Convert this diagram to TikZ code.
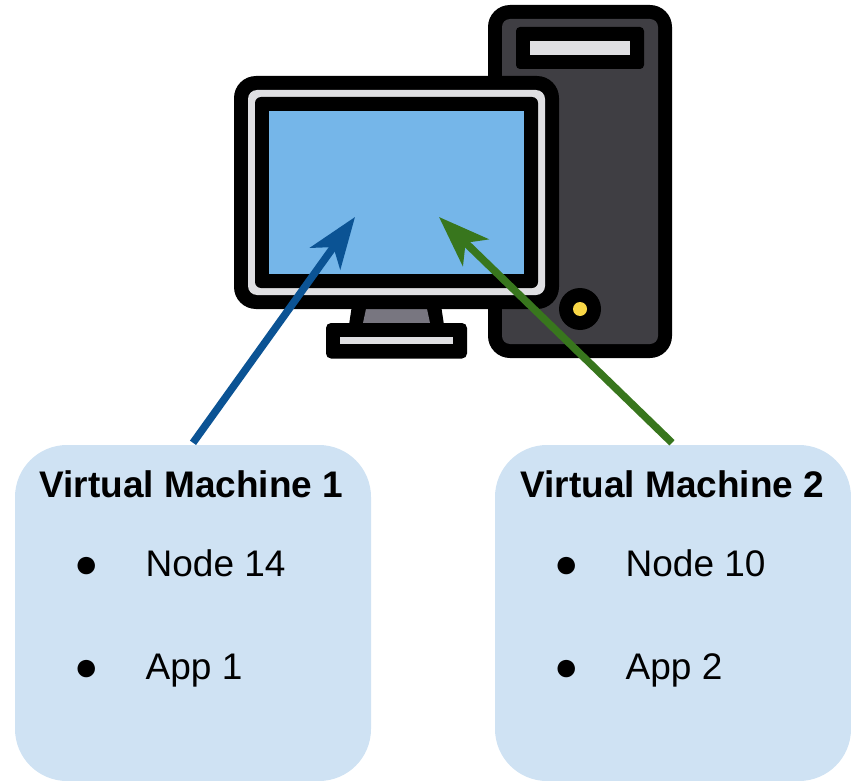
\documentclass[tikz,border=0pt]{standalone}
\usepackage{fontspec}
\setmainfont{Liberation Sans}
\usetikzlibrary{arrows.meta}
\definecolor{boxblue}{HTML}{CFE2F3}
\definecolor{arrowblue}{HTML}{0B5394}
\definecolor{arrowgreen}{HTML}{38761D}
\definecolor{screenblue}{HTML}{75B6E9}
\definecolor{towergrey}{HTML}{3F3E43}
\definecolor{lightgrey}{HTML}{DFDFE2}
\definecolor{standgrey}{HTML}{787680}
\definecolor{knobyellow}{HTML}{F9D746}
\tikzset{
  vmbox/.style={fill=boxblue,rounded corners=52pt,minimum width=356pt,minimum height=336pt,inner sep=0pt,draw=none},
  vmtitle/.style={anchor=base,inner sep=0pt,font=\fontsize{37}{44}\selectfont\bfseries},
  vmitem/.style={anchor=base west,inner sep=0pt,font=\fontsize{37}{44}\selectfont},
  vmbullet/.style={anchor=base,inner sep=0pt,font=\fontsize{40.5}{44}\selectfont},
  vmarrow/.style={line width=7.5pt,-{Stealth[length=51pt,width=37pt,inset=14pt]}}
}
\begin{document}
\begin{tikzpicture}[x=1pt,y=-1pt]
\useasboundingbox (0,0) rectangle (851,781);
% tower
\fill[black,rounded corners=22pt] (488,5) rectangle (672,358);
\fill[towergrey,rounded corners=8pt] (502,19) rectangle (658,344);
\fill[black,rounded corners=4pt] (516,27) rectangle (644,69);
\fill[lightgrey] (530,41) rectangle (630,55);
\fill[black] (580,309) circle (21pt);
\fill[knobyellow] (580,309) circle (7pt);
% stand
\fill[black] (352,305) -- (441,305) -- (444,325) -- (349,325) -- cycle;
\fill[standgrey] (366,309) -- (427,309) -- (430,323) -- (363,323) -- cycle;
\fill[black,rounded corners=5pt] (326,323) rectangle (467,358.5);
\fill[lightgrey] (340,337) rectangle (453,344);
% monitor
\fill[black,rounded corners=22pt] (234,76) rectangle (559,309);
\fill[lightgrey,rounded corners=9pt] (248,90) rectangle (545,295);
\fill[black,rounded corners=6pt] (255,97) rectangle (538,288);
\fill[screenblue] (269,111) rectangle (524,274);
% boxes
\node[vmbox] (vm1) at (193,613) {};
\node[vmbox] (vm2) at (673,613) {};
\node[vmtitle] (t1) at (191.5,497) {Virtual Machine 1};
\node[vmtitle] (t2) at (672.5,497) {Virtual Machine 2};
\node[vmbullet] (b1a) at (86.5,577) {●};
\node[vmitem] (n1) at (145.5,576) {Node 14};
\node[vmbullet] (b1b) at (86.5,680.5) {●};
\node[vmitem] (a1) at (145.5,679) {App 1};
\node[vmbullet] (b2a) at (566.5,577) {●};
\node[vmitem] (n2) at (625.5,576) {Node 10};
\node[vmbullet] (b2b) at (566.5,680.5) {●};
\node[vmitem] (a2) at (625.5,679) {App 2};
% arrows
\coordinate (tipblue) at (355,217);
\coordinate (tipgreen) at (439,217);
\draw[vmarrow,arrowblue] ([shift={(0,-2)}]vm1.north) -- (tipblue);
\draw[vmarrow,arrowgreen] ([shift={(-1,-2)}]vm2.north) -- (tipgreen);
\end{tikzpicture}
\end{document}
